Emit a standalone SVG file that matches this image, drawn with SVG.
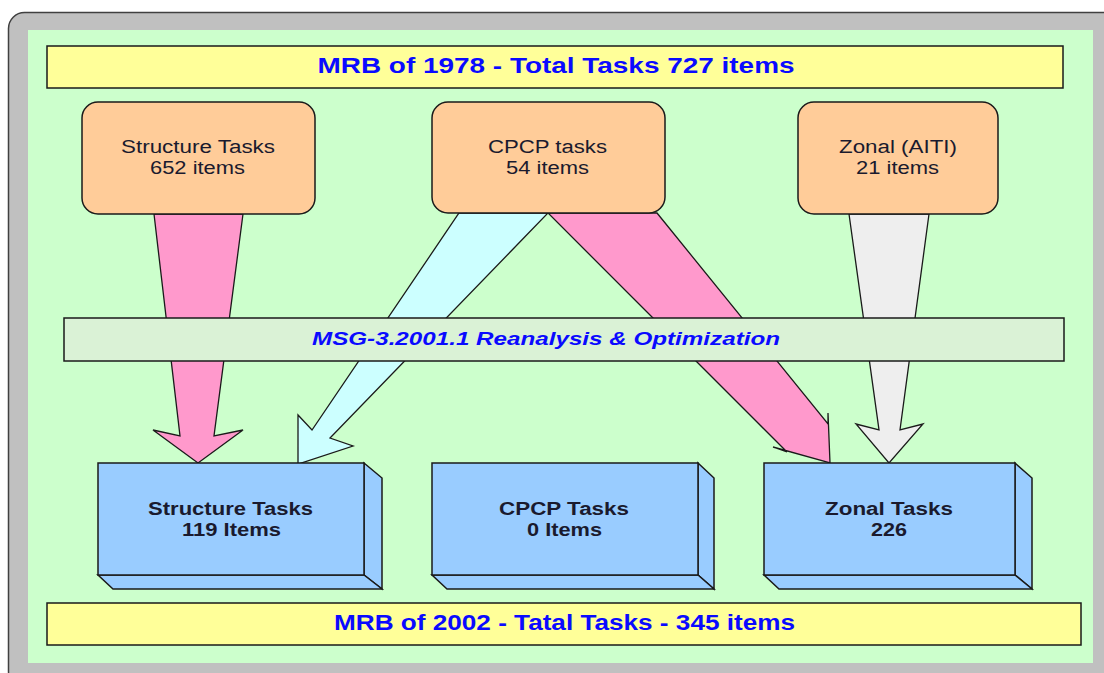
<svg xmlns="http://www.w3.org/2000/svg" width="1104" height="673" viewBox="0 0 1104 673">
  <style>
    .frame { fill: #c0c0c0; stroke: #404040; stroke-width: 1.5; }
    .panel { fill: #ccffcc; }
    .banner { fill: #ffff99; stroke: #1a1a1a; stroke-width: 1.5; }
    .phase { fill: #daf2d6; stroke: #1a1a1a; stroke-width: 1.5; }
    .source { fill: #ffcc99; stroke: #1a1a1a; stroke-width: 1.5; }
    .result { fill: #99ccff; stroke: #1a1a1a; stroke-width: 1.5; stroke-linejoin: miter; }
    .flow { stroke: #1a1a1a; stroke-width: 1.3; stroke-linejoin: miter; }
    .pink { fill: #ff99cc; }
    .cyan { fill: #ccffff; }
    .grey { fill: #eeeeee; }
    text { font-family: "Liberation Sans", Arial, sans-serif; text-anchor: middle; }
    .title { font-weight: bold; font-size: 22px; fill: #0a0aff; }
    .phasetxt { font-weight: bold; font-style: italic; font-size: 19px; fill: #0a0aff; }
    .srctxt { font-size: 18px; fill: #1a1a2e; }
    .restxt { font-weight: bold; font-size: 18px; fill: #1a1a2e; }
  </style>

  <rect width="1104" height="673" fill="#ffffff"/>

  <!-- outer frame and green panel -->
  <rect class="frame" x="8.5" y="12.5" width="1110" height="675" rx="16"/>
  <rect class="panel" x="28" y="30" width="1065" height="633"/>

  <!-- flows from the 1978 program to the 2002 program -->
  <g id="connectors">
    <polygon class="flow pink" points="154,214 243,214 214,436 243,430 198,463 153,430 180,436"/>
    <polygon class="flow cyan" points="459,213 548,213 330,438 353,446 298,464 298,415 312,430"/>
    <polygon class="flow pink" points="548,213 657,213 828,424 828,413 830,463 773,447 787,452"/>
    <polygon class="flow grey" points="849,214 929,214 900,430 923,424 889,463 856,424 879,430"/>
  </g>

  <g id="mrb1978">
    <rect class="banner" x="47" y="46" width="1016" height="42"/>
    <text class="title" x="556" y="73" textLength="477" lengthAdjust="spacingAndGlyphs">MRB of 1978 - Total Tasks 727 items</text>
  </g>

  <g id="src-structure">
    <rect class="source" x="82" y="102" width="233" height="112" rx="16"/>
    <text class="srctxt" x="198" y="153" textLength="154" lengthAdjust="spacingAndGlyphs">Structure Tasks</text>
    <text class="srctxt" x="197.5" y="174" textLength="95" lengthAdjust="spacingAndGlyphs">652 items</text>
  </g>

  <g id="src-cpcp">
    <rect class="source" x="432" y="102" width="233" height="111" rx="16"/>
    <text class="srctxt" x="547.5" y="153" textLength="119" lengthAdjust="spacingAndGlyphs">CPCP tasks</text>
    <text class="srctxt" x="547.5" y="174" textLength="83" lengthAdjust="spacingAndGlyphs">54 items</text>
  </g>

  <g id="src-zonal">
    <rect class="source" x="798" y="102" width="200" height="112" rx="16"/>
    <text class="srctxt" x="898" y="153" textLength="118" lengthAdjust="spacingAndGlyphs">Zonal (AITI)</text>
    <text class="srctxt" x="897.5" y="174" textLength="83" lengthAdjust="spacingAndGlyphs">21 items</text>
  </g>

  <g id="msg3">
    <rect class="phase" x="64" y="318" width="1000" height="43"/>
    <text class="phasetxt" x="546" y="345" textLength="468" lengthAdjust="spacingAndGlyphs">MSG-3.2001.1 Reanalysis &amp; Optimization</text>
  </g>

  <g id="res-structure">
    <polygon class="result" points="364,463 382,478 382,589 364,575"/>
    <polygon class="result" points="98,575 364,575 382,589 113,589"/>
    <rect class="result" x="98" y="463" width="266" height="112"/>
    <text class="restxt" x="230.5" y="515" textLength="165" lengthAdjust="spacingAndGlyphs">Structure Tasks</text>
    <text class="restxt" x="231.5" y="536" textLength="99" lengthAdjust="spacingAndGlyphs">119 Items</text>
  </g>

  <g id="res-cpcp">
    <polygon class="result" points="698,463 714,478 714,589 698,575"/>
    <polygon class="result" points="432,575 698,575 714,589 447,589"/>
    <rect class="result" x="432" y="463" width="266" height="112"/>
    <text class="restxt" x="564" y="515" textLength="130" lengthAdjust="spacingAndGlyphs">CPCP Tasks</text>
    <text class="restxt" x="564.5" y="536" textLength="75" lengthAdjust="spacingAndGlyphs">0 Items</text>
  </g>

  <g id="res-zonal">
    <polygon class="result" points="1015,463 1032,478 1032,589 1015,575"/>
    <polygon class="result" points="764,575 1015,575 1032,589 779,589"/>
    <rect class="result" x="764" y="463" width="251" height="112"/>
    <text class="restxt" x="889" y="515" textLength="128" lengthAdjust="spacingAndGlyphs">Zonal Tasks</text>
    <text class="restxt" x="889" y="536" textLength="36" lengthAdjust="spacingAndGlyphs">226</text>
  </g>

  <g id="mrb2002">
    <rect class="banner" x="47" y="603" width="1034" height="42"/>
    <text class="title" x="564.5" y="630" textLength="461" lengthAdjust="spacingAndGlyphs">MRB of 2002 - Tatal Tasks - 345 items</text>
  </g>
</svg>
